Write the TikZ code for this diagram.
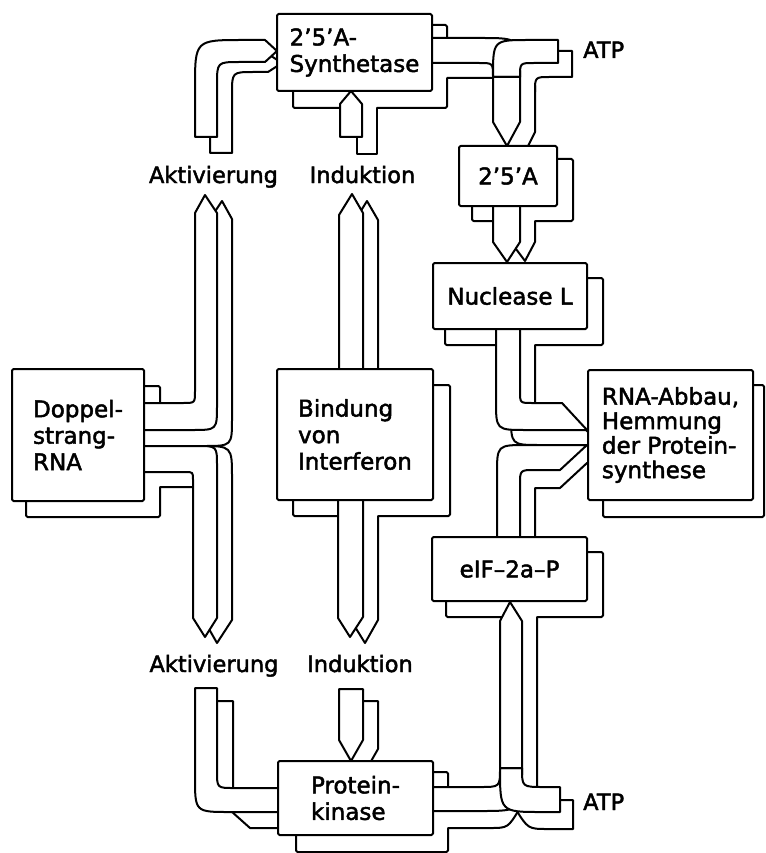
\documentclass[tikz,border=0pt]{standalone}
\usepackage{fontspec}
\setmainfont{DejaVu Sans}[FakeBold=2]
\pgfdeclarelayer{fg}
\pgfsetlayers{main,fg}
\begin{document}
\begin{tikzpicture}[x=1pt,y=-1pt,
  edge/.style={line width=2pt, line join=round, line cap=round},
  part/.style={edge, draw=black, fill=white},
  shad/.style={part, rounded corners=1.5pt},
  box/.style={part, rounded corners=1.5pt, inner sep=0pt, align=left, font=\fontsize{23}{26.5}\selectfont},
  lbl/.style={inner sep=0pt, font=\fontsize{22.5}{26}\selectfont, anchor=base}]
\useasboundingbox (0,0) rectangle (765,853);

% ---------- boxes (foreground layer)
\begin{pgfonlayer}{fg}
\node[box, minimum width=155pt, minimum height=77pt]  (syn) at (354.5,52.5) {2'5'A-\\Synthetase};
\node[box, minimum width=98pt,  minimum height=60pt]  (a25) at (508,176) {2'5'A};
\node[box, minimum width=154pt, minimum height=66pt]  (nuc) at (510,296) {Nuclease L};
\node[box, minimum width=165pt, minimum height=130pt, font=\fontsize{23}{24.5}\selectfont] (rna) at (670.5,435) {RNA-Abbau,\\Hemmung\\der Protein-\\synthese};
\node[box, minimum width=132pt, minimum height=132pt] (dop) at (78,435) {Doppel-\\strang-\\RNA};
\node[box, minimum width=156pt, minimum height=131pt] (bin) at (355,434.5) {Bindung\\von\\Interferon};
\node[box, minimum width=155pt, minimum height=64pt]  (eif) at (509.5,569) {eIF--2a--P};
\node[box, minimum width=155pt, minimum height=74pt]  (pk)  at (355.5,798) {Protein-\\kinase};
\end{pgfonlayer}

% ---------- shadows
\draw[shad] (293,25) rectangle (447,108);
\draw[shad] (472,159) rectangle (573,221);
\draw[shad] (445,278) rectangle (603,345);
\draw[shad] (603,385) rectangle (764,517);
\draw[shad] (26,386) rectangle (160,517);
\draw[shad] (293,385) rectangle (450,516);
\draw[shad] (446,552) rectangle (603,617);
\draw[shad] (296,772) rectangle (448,852);

% ---------- back faces of the ribbons
% Doppelstrang -> up
\draw[part] (130,418) -- (198,418) .. controls (210,418) .. (210,406) -- (210,219) -- (222,201) -- (232,219) -- (232,418) .. controls (232,446) .. (204,446) -- (130,446) -- cycle;
% Doppelstrang -> down
\fill[white] (130,446) -- (200,446) .. controls (232,446) .. (232,478) -- (232,620) -- (217,643) -- (205,622) -- (205,487) -- (130,487) -- cycle;
\draw[edge] (160,487) -- (205,487) -- (205,622) -- (217,643) -- (232,620) -- (232,478) .. controls (232,446) .. (200,446);
% Aktivierung -> Synthetase
\draw[part] (210,153) -- (210,100) .. controls (210,54) .. (256,54) -- (268,54) -- (282,63) -- (268,72) -- (254,72) .. controls (232,72) .. (232,94) -- (232,153) -- cycle;
% Induktion -> Synthetase
\fill[white] (357,96) rectangle (377,154);
\draw[edge] (377,108) -- (377,154) -- (357,154) -- (357,137);
% Bindung -> up
\draw[part] (354,375) -- (354,222) -- (367,201) -- (378,220) -- (378,375) -- cycle;
% Bindung -> down
\fill[white] (352,505) -- (378,505) -- (378,620) -- (365,643) -- (352,622) -- cycle;
\draw[edge] (378,516) -- (378,620) -- (365,643) -- (352,622);
% Aktivierung -> Proteinkinase
\draw[part] (210,701) -- (233,701) -- (233,800) -- (285,800) -- (285,828) -- (250,828) -- (222,803) -- (210,785) -- cycle;
% Induktion -> Proteinkinase
\draw[part] (356,701) -- (378,701) -- (378,749) -- (370,763) -- (351,763) -- cycle;
% Nuclease L -> RNA-Abbau
\fill[white] (511,334) -- (535,334) -- (535,418) -- (575,418) -- (600,445) -- (540,445) .. controls (511,445) .. (511,415) -- cycle;
\draw[edge] (535,345) -- (535,418) -- (575,418) -- (600,445) -- (540,445) .. controls (511,445) .. (511,415) -- (511,345);
% eIF -> RNA-Abbau
\draw[part] (512,545) -- (512,458) -- (545,458) -- (587,445) -- (590,445) -- (590,463) -- (587,463) -- (560,488) -- (535,488) -- (535,545) -- cycle;
% 2'5'A -> Nuclease L
\fill[white] (508,210) -- (535,210) -- (535,242) -- (525,261) -- (513,245) -- cycle;
\draw[edge] (535,221) -- (535,242) -- (525,261) -- (513,245);
% Synthetase -> junction
\fill[white] (420,53) -- (496,53) .. controls (535,53) .. (535,92) -- (508,92) .. controls (508,78) .. (494,78) -- (420,78) -- cycle;
\draw[edge] (447,78) -- (494,78) .. controls (508,78) .. (508,92) -- (535,92) .. controls (535,53) .. (496,53) -- (440,53);
% ATP (top) -> 2'5'A
\draw[part] (572,51) -- (544,51) .. controls (508,51) .. (508,87) -- (508,148) -- (527,148) -- (535,132) -- (535,92) .. controls (535,77) .. (550,77) -- (572,77) -- cycle;
% Proteinkinase -> junction
\fill[white] (420,800) -- (520,800) -- (520,808) .. controls (508,828) .. (490,828) -- (420,828) -- cycle;
\draw[edge] (448,828) -- (490,828) .. controls (508,828) .. (520,808);
% ATP (bottom) -> eIF
\fill[white] (515,608) -- (537,608) -- (537,780) .. controls (537,800) .. (557,800) -- (573,800) -- (573,829) -- (548,829) .. controls (528,829) .. (515,808) -- cycle;
\draw[edge] (537,617) -- (537,780) .. controls (537,800) .. (557,800) -- (573,800) -- (573,829) -- (548,829) .. controls (528,829) .. (515,808) -- (515,617);

% ---------- front faces of the ribbons
\draw[part] (130,403) -- (183,403) .. controls (195,403) .. (195,391) -- (195,213) -- (205,195) -- (217,213) -- (217,405) .. controls (217,430) .. (192,430) -- (130,430) -- cycle;
\draw[part] (130,446) -- (197,446) .. controls (217,446) .. (217,466) -- (217,618) -- (205,637) -- (193,618) -- (193,480) .. controls (193,472) .. (185,472) -- (130,472) -- cycle;
\draw[part] (195,137) -- (195,88) .. controls (195,40) .. (243,40) -- (265,40) -- (277,51) -- (265,62) -- (240,62) .. controls (217,62) .. (217,85) -- (217,137) -- cycle;
\draw[part] (340,137) -- (340,104) -- (351,91) -- (362,104) -- (362,137) -- cycle;
\draw[part] (339,375) -- (339,215) -- (352,194) -- (363,213) -- (363,375) -- cycle;
\draw[part] (338,495) -- (363,495) -- (363,617) -- (350,637) -- (338,618) -- cycle;
\draw[part] (195,688) -- (217,688) -- (217,771) .. controls (217,788) .. (234,788) -- (285,788) -- (285,812) -- (230,812) .. controls (195,812) .. (195,777) -- cycle;
\draw[part] (339,689) -- (363,689) -- (363,740) -- (351,761) -- (339,740) -- cycle;
\draw[part] (496,325) -- (520,325) -- (520,391) .. controls (520,403) .. (532,403) -- (562,403) -- (587,430) -- (526,430) .. controls (496,430) .. (496,400) -- cycle;
\draw[part] (497,545) -- (497,475) .. controls (497,445) .. (527,445) -- (587,445) -- (560,470) -- (535,470) .. controls (520,470) .. (520,485) -- (520,545) -- cycle;
\draw[part] (493,200) -- (520,200) -- (520,242) -- (507,262) -- (493,242) -- cycle;
\draw[part] (420,38) -- (481,38) .. controls (520,38) .. (520,77) -- (493,77) .. controls (493,63) .. (479,63) -- (420,63) -- cycle;
\draw[part] (558,40) -- (529,40) .. controls (493,40) .. (493,77) -- (520,77) .. controls (520,63) .. (534,63) -- (558,63) -- cycle;
\draw[part] (493,77) -- (520,77) -- (520,122) -- (507,146) -- (493,122) -- cycle;
\draw[part] (420,787) -- (480,787) .. controls (500,787) .. (500,768) -- (522,768) .. controls (522,811) .. (480,811) -- (420,811) -- cycle;
\draw[part] (560,787) -- (544,787) .. controls (522,787) .. (522,768) -- (500,768) .. controls (500,812) .. (542,812) -- (560,812) -- cycle;
\draw[part] (500,768) -- (522,768) -- (522,621) -- (510,602) -- (500,621) -- cycle;

% ---------- labels
\node[lbl] (akt1) at (213.5,183) {Aktivierung};
\node[lbl] (ind1) at (362.5,183) {Induktion};
\node[lbl] (akt2) at (214,672) {Aktivierung};
\node[lbl] (ind2) at (360,672) {Induktion};
\node[lbl, anchor=base west] (atp1) at (583,58) {ATP};
\node[lbl, anchor=base west] (atp2) at (583,810) {ATP};
\end{tikzpicture}
\end{document}
